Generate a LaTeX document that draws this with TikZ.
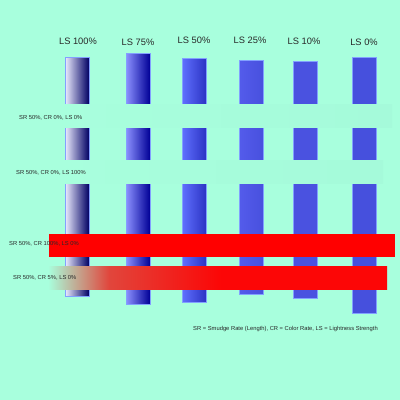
\documentclass[tikz,border=0pt]{standalone}
\usepackage{fontspec}
\setmainfont{Liberation Sans}
\usepackage{tikz}
\usetikzlibrary{positioning}
\usepackage{xcolor}

\definecolor{mintbg}{RGB}{168,255,221}
\definecolor{mintdk}{RGB}{165,250,218}
\definecolor{colline}{RGB}{130,160,255}
\definecolor{barred}{RGB}{255,0,0}
\definecolor{barredb}{RGB}{252,6,6}
\definecolor{barmid}{RGB}{225,70,60}
\definecolor{txtgray}{RGB}{40,40,40}
\definecolor{conel}{RGB}{236,236,255}
\definecolor{conem}{RGB}{80,90,240}
\definecolor{coner}{RGB}{0,0,100}
\definecolor{ctwol}{RGB}{140,145,255}
\definecolor{ctwom}{RGB}{80,90,245}
\definecolor{ctwor}{RGB}{0,0,150}
\definecolor{cthreel}{RGB}{96,112,255}
\definecolor{cthreer}{RGB}{44,52,196}
\definecolor{cfourl}{RGB}{84,92,235}
\definecolor{cfourr}{RGB}{72,80,222}
\definecolor{cfive}{RGB}{74,82,224}
\definecolor{csix}{RGB}{70,80,221}

\pgfdeclarehorizontalshading{redfade}{100bp}{color(0bp)=(mintbg); color(25bp)=(mintbg); color(34bp)=(barmid); color(50.5bp)=(barredb); color(75bp)=(barredb); color(100bp)=(barredb)}

\begin{document}
\begin{tikzpicture}[
    x=1pt, y=-1pt,
    lsnode/.style={font=\fontsize{9.3}{10}\selectfont, text=txtgray, inner sep=0pt},
    tag/.style={font=\fontsize{5.8}{7}\selectfont, text=txtgray, anchor=west, inner sep=0pt},
    col/.style={draw=colline, line width=0.6pt},
    band/.style={left color=mintbg, right color=mintdk}
]
\useasboundingbox[fill=mintbg] (0,0) rectangle (400,400);

% column headers
\node (ls100) [lsnode] at (78,41) {LS 100\%};
\node (ls75) [lsnode] at (138,42) {LS 75\%};
\node (ls50) [lsnode] at (194,40.5) {LS 50\%};
\node (ls25) [lsnode] at (250,40) {LS 25\%};
\node (ls10) [lsnode] at (304,41.5) {LS 10\%};
\node (ls0) [lsnode] at (364,42) {LS 0\%};

% columns
\shade[col, left color=conel, middle color=conem, right color=coner] (65,57) rectangle (89,296);
\shade[col, left color=ctwol, middle color=ctwom, right color=ctwor] (126,53) rectangle (150,304);
\shade[col, left color=cthreel, right color=cthreer] (182,58) rectangle (206,302);
\shade[col, left color=cfourl, right color=cfourr] (239,60) rectangle (263,294);
\fill[col, fill=cfive] (293,61) rectangle (317,298);
\fill[col, fill=csix] (352,57) rectangle (376,313);

% smudge bands
\shade[band] (49,104) rectangle (392,127);
\shade[band] (49,160) rectangle (383,183);
\node (row1) [tag] at (19,118) {SR 50\%, CR 0\%, LS 0\%};
\node (row2) [tag] at (16,173) {SR 50\%, CR 0\%, LS 100\%};

% red bars
\fill[barred] (49,234) rectangle (395,257);
\shade[shading=redfade] (48,266) rectangle (387,289);
\node (row3) [tag] at (9,244) {SR 50\%, CR 100\%, LS 0\%};
\node (row4) [tag] at (13,278) {SR 50\%, CR 5\%, LS 0\%};

% legend
\node (legend) [tag] at (193,329) {SR = Smudge Rate (Length), CR = Color Rate, LS = Lightness Strength};
\end{tikzpicture}
\end{document}
